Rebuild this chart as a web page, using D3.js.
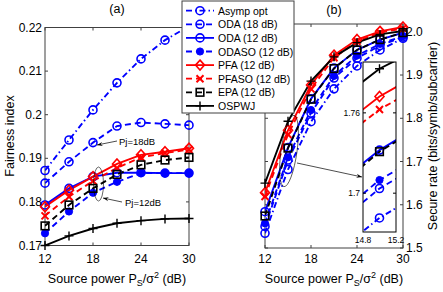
<!DOCTYPE html>
<html>
<head>
<meta charset="utf-8">
<script src="https://cdn.jsdelivr.net/npm/d3@7"></script>
<style>
  body { margin:0; background:#fff; }
  svg { font-family: "Liberation Sans", Arial, sans-serif; }
</style>
</head>
<body>
<div id="chart"></div>
<script>
// data
var powers = [12, 15, 18, 21, 24, 27, 30];
var seriesNames = ["Asymp opt", "ODA (18 dB)", "ODA (12 dB)", "ODASO (12 dB)", "PFA (12 dB)", "PFASO (12 dB)", "EPA (12 dB)", "OSPWJ"];

// (a) fairness index
var fairAsymp = [0.1872, 0.1942, 0.2011, 0.2073, 0.2128, 0.2171, 0.2203];
var fairODA18 = [0.1843, 0.1892, 0.1936, 0.1974, 0.1982, 0.1979, 0.1976];
var fairODA12 = [0.1793, 0.1831, 0.1858, 0.1867, 0.1867, 0.1866, 0.1866];
var fairODASO = [0.1728, 0.1778, 0.1821, 0.1846, 0.1866, 0.1866, 0.1866];
var fairPFA   = [0.1789, 0.1827, 0.1858, 0.1887, 0.1908, 0.1915, 0.1923];
var fairPFASO = [0.1768, 0.1812, 0.1848, 0.1878, 0.1902, 0.1912, 0.1920];
var fairEPA   = [0.1745, 0.1793, 0.1831, 0.1863, 0.1885, 0.1896, 0.1902];
var fairOSPWJ = [0.1700, 0.1722, 0.1739, 0.1751, 0.1757, 0.1761, 0.1762];

// (b) secure rate
var rateAsymp = [1.534, 1.6815, 1.792, 1.868, 1.921, 1.958, 1.985];
var rateODA18 = [1.550, 1.7035, 1.812, 1.893, 1.939, 1.968, 1.988];
var rateODA12 = [1.584, 1.7322, 1.845, 1.916, 1.958, 1.982, 1.998];
var rateODASO = [1.557, 1.7098, 1.819, 1.898, 1.945, 1.972, 1.990];
var ratePFA   = [1.628, 1.7722, 1.877, 1.946, 1.982, 2.001, 2.011];
var ratePFASO = [1.619, 1.7625, 1.868, 1.940, 1.978, 1.998, 2.008];
var rateEPA   = [1.574, 1.7310, 1.844, 1.915, 1.958, 1.982, 1.998];
var rateOSPWJ = [1.650, 1.7930, 1.886, 1.942, 1.975, 1.994, 2.002];

var xTicks = [12, 18, 24, 30];
var fairTicks = [0.17, 0.18, 0.19, 0.2, 0.21, 0.22];
var fairTickLabels = ["0.17", "0.18", "0.19", "0.2", "0.21", "0.22"];
var rateTicks = [1.5, 1.6, 1.7, 1.8, 1.9, 2.0];
var rateTickLabels = ["1.5", "1.6", "1.7", "1.8", "1.9", "2.0"];
var insetXTicks = [14.8, 15.2];
var insetYTicks = [1.7, 1.76];

// styles, same order as seriesNames
var colors = ["#0000ff", "#0000ff", "#0000ff", "#0000ff", "#ff0000", "#ff0000", "#000000", "#000000"];
var dashes = ["6,3,1.5,3", "6,4", null, "6,4", null, "6,4", "6,4", null];
var markers = ["circle", "circle", "circle", "dot", "diamond", "cross", "square", "plus"];

var fairData = [fairAsymp, fairODA18, fairODA12, fairODASO, fairPFA, fairPFASO, fairEPA, fairOSPWJ];
var rateData = [rateAsymp, rateODA18, rateODA12, rateODASO, ratePFA, ratePFASO, rateEPA, rateOSPWJ];

var W = 443, H = 292;
var svg = d3.select("#chart").append("svg").attr("width", W).attr("height", H);
var axisColor = "#404040";

function drawMarker(g, type, x, y, color) {
  if (type == "circle") {
    g.append("circle").attr("cx", x).attr("cy", y).attr("r", 4)
      .attr("fill", "none").attr("stroke", color).attr("stroke-width", 1.6);
  } else if (type == "dot") {
    g.append("circle").attr("cx", x).attr("cy", y).attr("r", 3.6)
      .attr("fill", color).attr("stroke", color).attr("stroke-width", 1);
  } else if (type == "diamond") {
    g.append("path").attr("d", "M" + x + "," + (y - 5) + "L" + (x + 4.5) + "," + y + "L" + x + "," + (y + 5) + "L" + (x - 4.5) + "," + y + "Z")
      .attr("fill", "none").attr("stroke", color).attr("stroke-width", 1.6);
  } else if (type == "cross") {
    g.append("path").attr("d", "M" + (x - 3.5) + "," + (y - 3.5) + "L" + (x + 3.5) + "," + (y + 3.5) + "M" + (x - 3.5) + "," + (y + 3.5) + "L" + (x + 3.5) + "," + (y - 3.5))
      .attr("stroke", color).attr("stroke-width", 2);
  } else if (type == "square") {
    g.append("rect").attr("x", x - 3.8).attr("y", y - 3.8).attr("width", 7.6).attr("height", 7.6)
      .attr("fill", "none").attr("stroke", color).attr("stroke-width", 1.6);
  } else if (type == "plus") {
    g.append("path").attr("d", "M" + (x - 4.5) + "," + y + "L" + (x + 4.5) + "," + y + "M" + x + "," + (y - 4.5) + "L" + x + "," + (y + 4.5))
      .attr("stroke", color).attr("stroke-width", 1.4);
  }
}

function drawSeries(g, data, xs, ys, clipId) {
  var line = d3.line().x(function(d, i) { return xs(powers[i]); }).y(function(d) { return ys(d); });
  data.forEach(function(vals, k) {
    g.append("path").datum(vals)
      .attr("d", line)
      .attr("fill", "none")
      .attr("stroke", colors[k])
      .attr("stroke-width", 1.9)
      .attr("stroke-dasharray", dashes[k])
      .attr("clip-path", "url(#" + clipId + ")");
  });
  data.forEach(function(vals, k) {
    var mg = g.append("g").attr("clip-path", "url(#" + clipId + "m)");
    vals.forEach(function(v, i) {
      drawMarker(mg, markers[k], xs(powers[i]), ys(v), colors[k]);
    });
  });
}

function addClip(id, x0, y0, x1, y1, pad) {
  var defs = svg.append("defs");
  defs.append("clipPath").attr("id", id).append("rect")
    .attr("x", x0).attr("y", y0).attr("width", x1 - x0).attr("height", y1 - y0);
  defs.append("clipPath").attr("id", id + "m").append("rect")
    .attr("x", x0 - pad).attr("y", y0 - pad).attr("width", x1 - x0 + 2 * pad).attr("height", y1 - y0 + 2 * pad);
}

function drawFrame(g, xs, ys, xt, yt, tl) {
  var x0 = xs.range()[0], x1 = xs.range()[1], y0 = ys.range()[1], y1 = ys.range()[0];
  g.append("rect").attr("x", x0).attr("y", y0).attr("width", x1 - x0).attr("height", y1 - y0)
    .attr("fill", "none").attr("stroke", axisColor).attr("stroke-width", 1);
  xt.forEach(function(t) {
    g.append("line").attr("x1", xs(t)).attr("x2", xs(t)).attr("y1", y1).attr("y2", y1 - tl).attr("stroke", axisColor);
    g.append("line").attr("x1", xs(t)).attr("x2", xs(t)).attr("y1", y0).attr("y2", y0 + tl).attr("stroke", axisColor);
  });
  yt.forEach(function(t) {
    g.append("line").attr("x1", x0).attr("x2", x0 + tl).attr("y1", ys(t)).attr("y2", ys(t)).attr("stroke", axisColor);
    g.append("line").attr("x1", x1).attr("x2", x1 - tl).attr("y1", ys(t)).attr("y2", ys(t)).attr("stroke", axisColor);
  });
}

function xTitle(cx) {
  var t = svg.append("text").attr("x", cx).attr("y", 283).attr("text-anchor", "middle").attr("font-size", 12.5);
  t.append("tspan").text("Source power P");
  t.append("tspan").attr("font-size", 9).attr("dy", 3).text("S");
  t.append("tspan").attr("dy", -3).text("/\u03c3");
  t.append("tspan").attr("font-size", 9).attr("dy", -5).text("2");
  t.append("tspan").attr("dy", 5).text(" (dB)");
}

function arrow(g, x1, y1, x2, y2) {
  g.append("line").attr("x1", x1).attr("y1", y1).attr("x2", x2).attr("y2", y2)
    .attr("stroke", "#000").attr("stroke-width", 0.7);
  var a = Math.atan2(y2 - y1, x2 - x1), L = 6, s = 0.35;
  g.append("path")
    .attr("d", "M" + x2 + "," + y2 +
      "L" + (x2 - L * Math.cos(a - s)) + "," + (y2 - L * Math.sin(a - s)) +
      "L" + (x2 - L * 0.6 * Math.cos(a)) + "," + (y2 - L * 0.6 * Math.sin(a)) +
      "L" + (x2 - L * Math.cos(a + s)) + "," + (y2 - L * Math.sin(a + s)) + "Z")
    .attr("fill", "#000");
}

// ---------- panel (a)
var xA = d3.scaleLinear().domain([12, 30]).range([45, 189]);
var yA = d3.scaleLinear().domain([0.17, 0.22]).range([245.5, 27.5]);
addClip("clipA", 45, 27.5, 189, 245.5, 6);
var gA = svg.append("g");
drawFrame(gA, xA, yA, xTicks, fairTicks, 3);
drawSeries(gA, fairData, xA, yA, "clipA");

fairTicks.forEach(function(t, i) {
  svg.append("text").attr("x", 42).attr("y", yA(t) + 4).attr("text-anchor", "end")
    .attr("font-size", 12).text(fairTickLabels[i]);
});
xTicks.forEach(function(t) {
  svg.append("text").attr("x", xA(t)).attr("y", 263).attr("text-anchor", "middle")
    .attr("font-size", 12).text(t);
});
svg.append("text").attr("transform", "translate(14,136) rotate(-90)").attr("text-anchor", "middle")
  .attr("font-size", 12.5).text("Fairness index");
svg.append("text").attr("x", 117).attr("y", 13).attr("text-anchor", "middle").attr("font-size", 12.5).text("(a)");
xTitle(117);

// annotations (a)
svg.append("ellipse").attr("cx", 98.5).attr("cy", 184).attr("rx", 5).attr("ry", 17)
  .attr("fill", "none").attr("stroke", "#000").attr("stroke-width", 0.6);
arrow(svg, 122, 202, 103, 198);
svg.append("text").attr("x", 125).attr("y", 206).attr("font-size", 9.5).text("Pj=12dB");
arrow(svg, 117, 141, 97, 145);
svg.append("text").attr("x", 119).attr("y", 145).attr("font-size", 9.5).text("Pj=18dB");

// ---------- panel (b)
var xB = d3.scaleLinear().domain([12, 30]).range([265, 403]);
var yB = d3.scaleLinear().domain([1.5, 2.018]).range([248, 24]);
addClip("clipB", 265, 24, 403, 248, 6);
var gB = svg.append("g");
drawFrame(gB, xB, yB, xTicks, rateTicks, 3);
drawSeries(gB, rateData, xB, yB, "clipB");

rateTicks.forEach(function(t, i) {
  svg.append("text").attr("x", 406).attr("y", yB(t) + 4).attr("font-size", 12).text(rateTickLabels[i]);
});
xTicks.forEach(function(t) {
  svg.append("text").attr("x", xB(t)).attr("y", 263).attr("text-anchor", "middle")
    .attr("font-size", 12).text(t);
});
svg.append("text").attr("transform", "translate(437,136) rotate(-90)").attr("text-anchor", "middle")
  .attr("font-size", 12.5).text("Secure rate (bits/symb/subcarrier)");
svg.append("text").attr("x", 334).attr("y", 14).attr("text-anchor", "middle").attr("font-size", 12.5).text("(b)");
xTitle(334);

// ellipse + arrow to inset
svg.append("ellipse").attr("cx", 289).attr("cy", 151).attr("rx", 8).attr("ry", 36)
  .attr("transform", "rotate(8,289,151)")
  .attr("fill", "none").attr("stroke", "#000").attr("stroke-width", 0.6);
arrow(svg, 297, 163, 362, 177);

// inset
var xI = d3.scaleLinear().domain([14.8, 15.2]).range([363, 396]);
var yI = d3.scaleLinear().domain([1.671, 1.798]).range([232, 62]);
addClip("clipI", 363, 62, 396, 232, 0);
var gI = svg.append("g");
gI.append("rect").attr("x", 363).attr("y", 62).attr("width", 33).attr("height", 170).attr("fill", "#fff");
drawSeries(gI, rateData, xI, yI, "clipI");
gI.append("rect").attr("x", 363).attr("y", 62).attr("width", 33).attr("height", 170)
  .attr("fill", "none").attr("stroke", "#000").attr("stroke-width", 1);
insetYTicks.forEach(function(t) {
  gI.append("line").attr("x1", 363).attr("x2", 366).attr("y1", yI(t)).attr("y2", yI(t)).attr("stroke", "#000");
  gI.append("line").attr("x1", 396).attr("x2", 393).attr("y1", yI(t)).attr("y2", yI(t)).attr("stroke", "#000");
  gI.append("text").attr("x", 360).attr("y", yI(t) + 3).attr("text-anchor", "end").attr("font-size", 8.5).text(t);
});
insetXTicks.forEach(function(t) {
  gI.append("text").attr("x", xI(t)).attr("y", 243).attr("text-anchor", "middle").attr("font-size", 8.5).text(t);
});

// ---------- legend
var lg = svg.append("g");
lg.append("rect").attr("x", 182).attr("y", 1).attr("width", 112).attr("height", 112)
  .attr("fill", "#fff").attr("stroke", "#404040").attr("stroke-width", 1);
seriesNames.forEach(function(name, k) {
  var y = 10.7 + k * 13.6;
  lg.append("line").attr("x1", 186).attr("x2", 214).attr("y1", y).attr("y2", y)
    .attr("stroke", colors[k]).attr("stroke-width", 1.8).attr("stroke-dasharray", dashes[k]);
  drawMarker(lg, markers[k], 200, y, colors[k]);
  lg.append("text").attr("x", 218).attr("y", y + 4).attr("font-size", 10.5).text(name);
});
</script>
</body>
</html>
